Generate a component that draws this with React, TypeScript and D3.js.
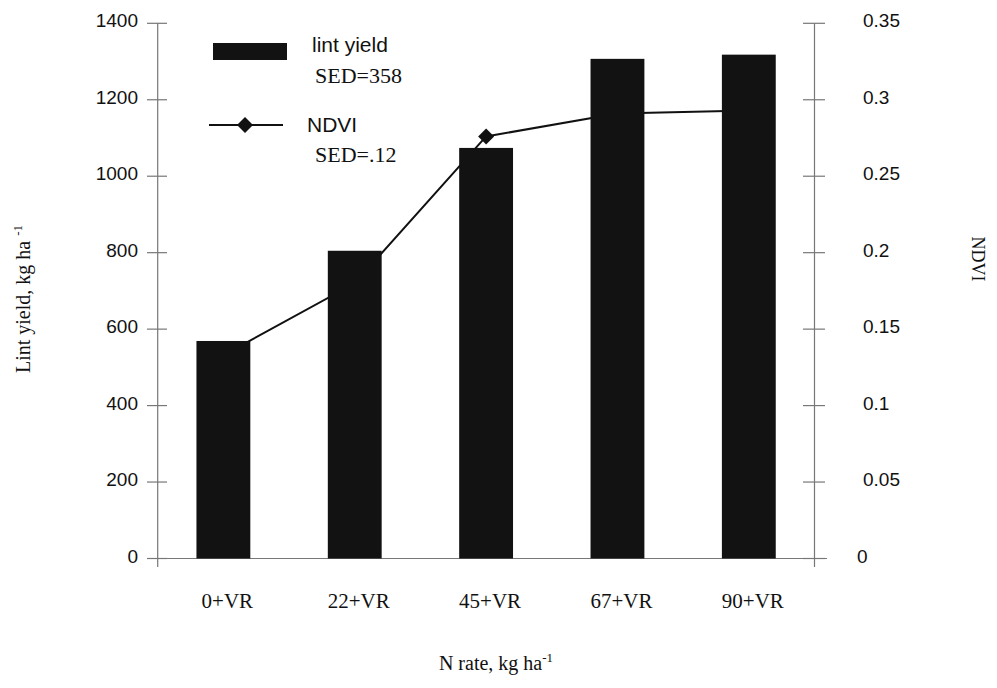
import React from "react";
import * as d3 from "d3";

const categories = ["0+VR", "22+VR", "45+VR", "67+VR", "90+VR"];
const lintYield = [569, 805, 1074, 1307, 1318];
const ndvi = [0.133, 0.18, 0.276, 0.291, 0.293];
const leftTicks = [0, 200, 400, 600, 800, 1000, 1200, 1400];
const rightTicks = [0, 0.05, 0.1, 0.15, 0.2, 0.25, 0.3, 0.35];
const rightTickLabels = ["0", "0.05", "0.1", "0.15", "0.2", "0.25", "0.3", "0.35"];

const W = 997;
const H = 688;
const xL = 157.7;
const xR = 814.5;
const yTop = 23.3;
const yBot = 558.5;

const axisColor = "#777";
const sans = "'Liberation Sans', Arial, sans-serif";
const serif = "'Liberation Serif', 'Times New Roman', serif";

export default function App() {
  const x = d3.scaleBand<string>().domain(categories).range([xL, xR]).paddingInner(0.59).paddingOuter(0.295);
  const yl = d3.scaleLinear().domain([0, 1400]).range([yBot, yTop]);
  const yr = d3.scaleLinear().domain([0, 0.35]).range([yBot, yTop]);
  const line = d3
    .line<number>()
    .x((_, i) => (x(categories[i]) as number) + x.bandwidth() / 2)
    .y((d) => yr(d));
  const diamond = (cx: number, cy: number, r: number) =>
    `M${cx},${cy - r}L${cx + r},${cy}L${cx},${cy + r}L${cx - r},${cy}Z`;

  return (
    <svg width={W} height={H} style={{ position: "absolute", left: 0, top: 0, background: "#fff" }}>
      {/* axes */}
      <line x1={xL} x2={xL} y1={yTop} y2={567} stroke={axisColor} strokeWidth={1.2} />
      <line x1={xR} x2={xR} y1={yTop} y2={567} stroke={axisColor} strokeWidth={1.2} />
      <line x1={147} x2={827} y1={yBot} y2={yBot} stroke={axisColor} strokeWidth={1.2} />
      {leftTicks.map((t) => (
        <g key={"l" + t}>
          <line x1={147} x2={167} y1={yl(t)} y2={yl(t)} stroke={axisColor} strokeWidth={1.2} />
          <text x={138} y={yl(t) + 4} textAnchor="end" fontFamily={sans} fontSize={19} fill="#111">
            {t}
          </text>
        </g>
      ))}
      {rightTicks.map((t, i) => (
        <g key={"r" + t}>
          <line x1={803} x2={825} y1={yr(t)} y2={yr(t)} stroke={axisColor} strokeWidth={1.2} />
          <text x={t === 0 ? 857 : 863} y={yr(t) + 4} textAnchor="start" fontFamily={sans} fontSize={19} fill="#111">
            {rightTickLabels[i]}
          </text>
        </g>
      ))}

      {/* NDVI line and markers (under bars) */}
      <path d={line(ndvi) || ""} fill="none" stroke="#111" strokeWidth={2} />
      {ndvi.map((v, i) => (
        <path
          key={"m" + i}
          d={diamond((x(categories[i]) as number) + x.bandwidth() / 2, yr(v), 8)}
          fill="#111"
        />
      ))}

      {/* bars */}
      {lintYield.map((v, i) => (
        <rect
          key={"b" + i}
          x={x(categories[i])}
          y={yl(v)}
          width={x.bandwidth()}
          height={yBot - yl(v)}
          fill="#121212"
        />
      ))}

      {/* x tick labels */}
      {categories.map((c) => (
        <text
          key={"x" + c}
          x={(x(c) as number) + x.bandwidth() / 2 + 4}
          y={608}
          textAnchor="middle"
          fontFamily={serif}
          fontSize={21}
          fill="#111"
        >
          {c}
        </text>
      ))}

      {/* axis titles */}
      <text x={496} y={670} textAnchor="middle" fontFamily={serif} fontSize={20} fill="#111">
        N rate, kg ha<tspan dy={-8} fontSize={13}>-1</tspan>
      </text>
      <text
        transform="translate(30,299) rotate(-90)"
        textAnchor="middle"
        fontFamily={serif}
        fontSize={20}
        fill="#111"
      >
        Lint yield, kg ha <tspan dy={-8} fontSize={13}>-1</tspan>
      </text>
      <text
        transform="translate(972,259) rotate(90)"
        textAnchor="middle"
        fontFamily={serif}
        fontSize={18}
        fill="#111"
      >
        NDVI
      </text>

      {/* legend */}
      <rect x={213} y={43} width={74} height={17} fill="#121212" />
      <text x={312} y={52} fontFamily={sans} fontSize={21} fill="#111">lint yield</text>
      <text x={315} y={83} fontFamily={serif} fontSize={22} fill="#111">SED=358</text>
      <line x1={209} x2={283} y1={125} y2={125} stroke="#111" strokeWidth={2} />
      <path d={diamond(245, 125, 8)} fill="#111" />
      <text x={307} y={132} fontFamily={sans} fontSize={21} fill="#111">NDVI</text>
      <text x={315} y={162} fontFamily={serif} fontSize={22} fill="#111">SED=.12</text>
    </svg>
  );
}
